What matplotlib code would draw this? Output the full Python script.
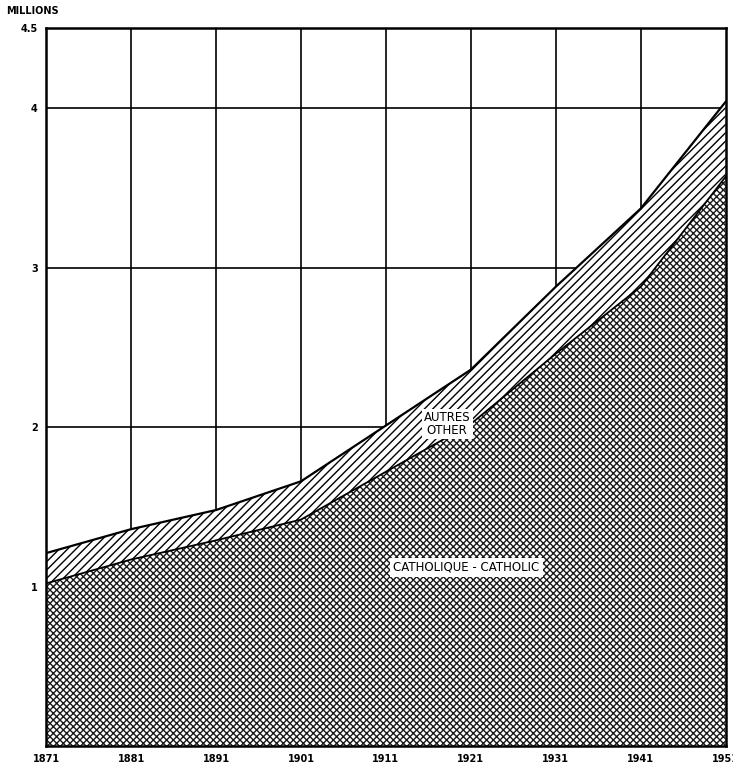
import matplotlib
matplotlib.use("Agg")
import matplotlib.pyplot as plt

years = [1871, 1881, 1891, 1901, 1911, 1921, 1931, 1941, 1951]
catholic = [1.02, 1.17, 1.29, 1.42, 1.72, 2.02, 2.46, 2.88, 3.57]
total = [1.21, 1.36, 1.48, 1.66, 2.01, 2.36, 2.88, 3.37, 4.04]
x_labels = ["1871", "1881", "1891", "1901", "1911", "1921", "1931", "1941", "1951"]
y_ticks = [1, 2, 3, 4, 4.5]
y_labels = ["1", "2", "3", "4", "4.5"]

plt.rcParams['hatch.linewidth'] = 1.0
fig = plt.figure(figsize=(7.33, 7.66), dpi=100)
ax = fig.add_axes([0.063, 0.026, 0.927, 0.937])

ax.set_xlim(1871, 1951)
ax.set_ylim(0, 4.5)

for yv in [1, 2, 3, 4]:
    ax.axhline(yv, color='black', lw=1.2, zorder=1)
for xv in years[1:-1]:
    ax.axvline(xv, color='black', lw=1.2, zorder=1)

ax.fill_between(years, catholic, total, facecolor='white', edgecolor='black',
                hatch='////', lw=0, zorder=2)
ax.fill_between(years, 0, catholic, facecolor='white', edgecolor='#1a1a1a',
                hatch='xxxxx', lw=0, zorder=2)
ax.plot(years, total, color='black', lw=1.6, zorder=3)
ax.plot(years, catholic, color='black', lw=1.3, zorder=3)

for s in ax.spines.values():
    s.set_linewidth(1.8)
    s.set_zorder(4)

ax.set_xticks(years)
ax.set_xticklabels(x_labels, fontsize=7, fontweight='bold')
ax.set_yticks(y_ticks)
ax.set_yticklabels(y_labels, fontsize=7, fontweight='bold')
ax.tick_params(length=0, pad=6)

fig.text(0.008, 0.985, "MILLIONS", fontsize=7, fontweight='bold', ha='left', va='center')

ax.text(1918.2, 2.02, "AUTRES\nOTHER", fontsize=8.5, ha='center', va='center',
        linespacing=0.95, zorder=5,
        bbox=dict(facecolor='white', edgecolor='none', pad=1.5))
ax.text(1920.5, 1.12, "CATHOLIQUE - CATHOLIC", fontsize=8.5, ha='center', va='center',
        zorder=5, bbox=dict(facecolor='white', edgecolor='none', pad=2.5))

fig.savefig("out.png", dpi=100)
